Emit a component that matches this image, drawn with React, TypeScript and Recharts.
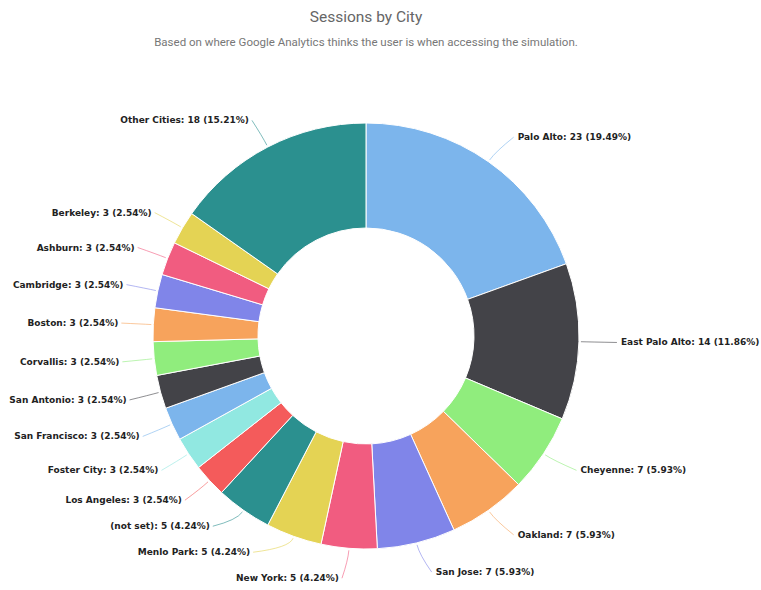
import React from 'react';
import { PieChart, Pie, Cell } from 'recharts';

// clockwise from 12 o'clock
const cities = [
  'Palo Alto', 'East Palo Alto', 'Cheyenne', 'Oakland', 'San Jose', 'New York',
  'Menlo Park', '(not set)', 'Los Angeles', 'Foster City', 'San Francisco',
  'San Antonio', 'Corvallis', 'Boston', 'Cambridge', 'Ashburn', 'Berkeley', 'Other Cities',
];
const sessions = [23, 14, 7, 7, 7, 5, 5, 5, 3, 3, 3, 3, 3, 3, 3, 3, 3, 18];
const shares = [
  '19.49%', '11.86%', '5.93%', '5.93%', '5.93%', '4.24%', '4.24%', '4.24%', '2.54%',
  '2.54%', '2.54%', '2.54%', '2.54%', '2.54%', '2.54%', '2.54%', '2.54%', '15.21%',
];

const COLORS = ['#7cb5ec', '#434348', '#90ed7d', '#f7a35c', '#8085e9', '#f15c80', '#e4d354', '#2b908f', '#f45b5b', '#91e8e1'];

const data = cities.map((name, i) => ({ name, value: sessions[i], share: shares[i] }));

// recharts adds the 5px chart margin to cx/cy
const CX = 361;
const CY = 331;
const OUTER = 213;
const INNER = 108;
const DIST = 30;
const RAD = Math.PI / 180;

// label y positions, pushed apart on each side like highcharts does
const labelYs = (cy: number, r: number) => {
  const total = sessions.reduce((a, b) => a + b, 0);
  let acc = 0;
  const items = sessions.map((v, i) => {
    const mid = ((acc + v / 2) / total) * 360; // clockwise from top
    acc += v;
    return { i, mid, y: cy - (r + DIST) * Math.cos(mid * RAD), left: mid > 180 };
  });
  const gap = 26;
  const left = items.filter((d) => d.left).sort((a, b) => b.y - a.y);
  for (let k = 1; k < left.length; k++) {
    if (left[k - 1].y - left[k].y < gap) left[k].y = left[k - 1].y - gap;
  }
  const right = items.filter((d) => !d.left).sort((a, b) => a.y - b.y);
  for (let k = 1; k < right.length; k++) {
    if (right[k].y - right[k - 1].y < gap) right[k].y = right[k - 1].y + gap;
  }
  const out: number[] = [];
  items.forEach((d) => (out[d.i] = d.y));
  return out;
};

const renderLabel = (props: any) => {
  const { cx, cy, midAngle, outerRadius, index } = props;
  const ys = labelYs(cy, outerRadius);
  const y = ys[index];
  const R = outerRadius + DIST;
  const cos = Math.cos(-midAngle * RAD);
  const sin = Math.sin(-midAngle * RAD);
  const left = cos < 0;
  const dy = Math.min(Math.abs(y - cy), R - 1);
  const ax = cx + (left ? -1 : 1) * Math.sqrt(R * R - dy * dy);
  const sx = cx + (outerRadius + 2) * cos;
  const sy = cy + (outerRadius + 2) * sin;
  const mx = cx + (outerRadius + 12) * cos;
  const my = cy + (outerRadius + 12) * sin;
  const tx = left ? ax - 5 : ax + 12;
  const color = COLORS[index % COLORS.length];
  const d = data[index];
  return (
    <g key={`lbl-${index}`}>
      <path
        d={`M${sx},${sy} Q${mx},${my} ${left ? ax - 2 : ax + 8},${y}`}
        fill="none"
        stroke={color}
        strokeOpacity={0.6}
        strokeWidth={1}
      />
      <text
        x={tx}
        y={y}
        textAnchor={left ? 'end' : 'start'}
        dominantBaseline="central"
        fill="#222"
        fontSize={9}
        fontWeight="bold"
        fontFamily="'DejaVu Sans', Verdana, sans-serif"
      >
        {`${d.name}: ${d.value} (${d.share})`}
      </text>
    </g>
  );
};

export default function App() {
  return (
    <div style={{ position: 'absolute', left: 0, top: 0, width: 761, height: 590, background: '#fff' }}>
      <div
        style={{
          position: 'absolute', left: 0, top: 8, width: 732, textAlign: 'center',
          fontFamily: 'Roboto, sans-serif', fontSize: 15.5, color: '#666',
        }}
      >
        Sessions by City
      </div>
      <div
        style={{
          position: 'absolute', left: 0, top: 35, width: 732, textAlign: 'center',
          fontFamily: 'Roboto, sans-serif', fontSize: 11.5, color: '#777',
        }}
      >
        Based on where Google Analytics thinks the user is when accessing the simulation.
      </div>
      <div style={{ position: 'absolute', left: 0, top: 0 }}>
        <PieChart width={761} height={590}>
          <Pie
            data={data}
            dataKey="value"
            nameKey="name"
            cx={CX}
            cy={CY}
            innerRadius={INNER}
            outerRadius={OUTER}
            startAngle={90}
            endAngle={-270}
            stroke="#fff"
            strokeWidth={1}
            label={renderLabel}
            labelLine={false}
            isAnimationActive={false}
          >
            {data.map((_e, i) => (
              <Cell key={`cell-${i}`} fill={COLORS[i % COLORS.length]} />
            ))}
          </Pie>
        </PieChart>
      </div>
    </div>
  );
}
